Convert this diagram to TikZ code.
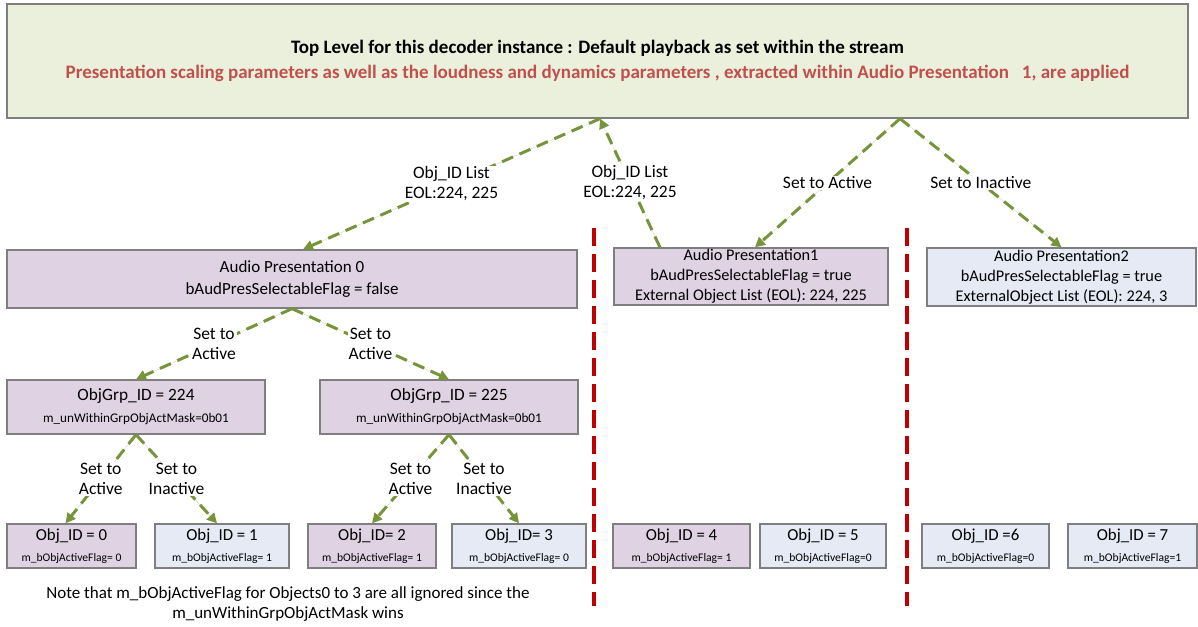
\documentclass[tikz,border=0pt]{standalone}
\usepackage{fontspec}
\setmainfont{Carlito}
\usepackage{xcolor}
\usepackage{tikz}
\usetikzlibrary{arrows.meta}
\definecolor{topfill}{HTML}{EBF0DC}
\definecolor{selfill}{HTML}{DFD3E3}
\definecolor{offfill}{HTML}{E6EAF4}
\definecolor{boxline}{HTML}{7F7F7F}
\definecolor{arrgreen}{HTML}{77933C}
\definecolor{redtxt}{HTML}{C0504D}
\definecolor{sepred}{HTML}{C00000}

\begin{document}
\begin{tikzpicture}[x=1pt,y=-1pt,>={Triangle[length=10pt,width=10pt]},
every node/.style={font=\fontsize{17}{20}\selectfont},
box/.style={draw=boxline,line width=1.3pt,inner sep=0pt,align=center},
sel/.style={box,fill=selfill},
off/.style={box,fill=offfill},
flow/.style={->,draw=arrgreen,fill=arrgreen,line width=3pt,dash pattern=on 12pt off 7pt},
lbl/.style={fill=white,inner sep=1pt,align=center,font=\fontsize{17.5}{20}\selectfont},
sep/.style={draw=sepred,line width=3.5pt,dash pattern=on 18pt off 8pt}]
\useasboundingbox (0,0) rectangle (1198,626);
\node[box,fill=topfill,minimum width=1181pt,minimum height=114pt,font=\fontsize{19}{25}\selectfont\bfseries] (top) at (597.5,61)
 {Top Level for this decoder instance : Default playback as set within the stream\\
 \textcolor{redtxt}{Presentation scaling parameters as well as the loudness and dynamics parameters , extracted within Audio Presentation\ \ \ 1, are applied}};
\node[sel,minimum width=570pt,minimum height=58pt,font=\fontsize{17}{22}\selectfont] (ap0) at (292,279)
 {Audio Presentation 0\\bAudPresSelectableFlag = false};
\node[sel,minimum width=274pt,minimum height=57pt,font=\fontsize{16.3}{20}\selectfont] (ap1) at (751,276.5)
 {Audio Presentation1\\bAudPresSelectableFlag = true\\External Object List (EOL): 224, 225};
\node[off,minimum width=269pt,minimum height=58pt,font=\fontsize{16.3}{20}\selectfont] (ap2) at (1061.5,277)
 {Audio Presentation2\\bAudPresSelectableFlag = true\\ExternalObject List (EOL): 224, 3};
\node[sel,minimum width=258pt,minimum height=54pt] (grp224) at (136,407)
 {{\fontsize{17.3}{19}\selectfont ObjGrp\_ID = 224}\\[2pt]{\fontsize{13.2}{15}\selectfont m\_unWithinGrpObjActMask=0b01}};
\node[sel,minimum width=258pt,minimum height=54pt] (grp225) at (449,407)
 {{\fontsize{17.3}{19}\selectfont ObjGrp\_ID = 225}\\[2pt]{\fontsize{13.2}{15}\selectfont m\_unWithinGrpObjActMask=0b01}};
\node[sel,minimum width=129pt,minimum height=44pt] (obj0) at (71.5,546)
 {{\fontsize{16.8}{18}\selectfont Obj\_ID = 0}\\[1pt]{\fontsize{11.6}{13}\selectfont m\_bObjActiveFlag= 0}};
\node[off,minimum width=134pt,minimum height=44pt] (obj1) at (222,546)
 {{\fontsize{16.8}{18}\selectfont Obj\_ID = 1}\\[1pt]{\fontsize{11.6}{13}\selectfont m\_bObjActiveFlag= 1}};
\node[sel,minimum width=128pt,minimum height=44pt] (obj2) at (372,546)
 {{\fontsize{16.8}{18}\selectfont Obj\_ID= 2}\\[1pt]{\fontsize{11.6}{13}\selectfont m\_bObjActiveFlag= 1}};
\node[off,minimum width=134pt,minimum height=44pt] (obj3) at (519,546)
 {{\fontsize{16.8}{18}\selectfont Obj\_ID= 3}\\[1pt]{\fontsize{11.6}{13}\selectfont m\_bObjActiveFlag= 0}};
\node[sel,minimum width=137pt,minimum height=44pt] (obj4) at (681.5,546)
 {{\fontsize{16.8}{18}\selectfont Obj\_ID = 4}\\[1pt]{\fontsize{11.6}{13}\selectfont m\_bObjActiveFlag= 1}};
\node[off,minimum width=126pt,minimum height=44pt] (obj5) at (823,546)
 {{\fontsize{16.8}{18}\selectfont Obj\_ID = 5}\\[1pt]{\fontsize{11.6}{13}\selectfont m\_bObjActiveFlag=0}};
\node[off,minimum width=127pt,minimum height=44pt] (obj6) at (985.5,546)
 {{\fontsize{16.8}{18}\selectfont Obj\_ID =6}\\[1pt]{\fontsize{11.6}{13}\selectfont m\_bObjActiveFlag=0}};
\node[off,minimum width=129pt,minimum height=44pt] (obj7) at (1132.5,546)
 {{\fontsize{16.8}{18}\selectfont Obj\_ID = 7}\\[1pt]{\fontsize{11.6}{13}\selectfont m\_bObjActiveFlag=1}};
\node[align=center,font=\fontsize{17}{20}\selectfont] (note) at (288,604)
 {Note that m\_bObjActiveFlag for Objects0 to 3 are all ignored since the\\m\_unWithinGrpObjActMask wins};
% separators between the presentations
\draw[sep] (594,228) -- (594,606);
\draw[sep] (907,228) -- (907,606);
% top level links
\draw[flow] ([xshift=2.5pt]top.south) -- node[lbl]{Obj\_ID List\\EOL:224, 225} ([xshift=11pt]ap0.north);
\draw[flow] ([xshift=-91pt]ap1.north) -- node[lbl]{Obj\_ID List\\EOL:224, 225} ([xshift=2.5pt]top.south);
\draw[flow] ([xshift=302.5pt]top.south) -- node[lbl]{Set to Active} ([xshift=4pt]ap1.north);
\draw[flow] ([xshift=302.5pt]top.south) -- node[lbl]{Set to Inactive} (ap2.north);
% groups and objects
\draw[flow] (ap0.south) -- node[lbl]{Set to\\Active} (grp224.north);
\draw[flow] (ap0.south) -- node[lbl]{Set to\\Active} (grp225.north);
\draw[flow] (grp224.south) -- node[lbl]{Set to\\Active} ([xshift=-6pt]obj0.north);
\draw[flow] (grp224.south) -- node[lbl]{Set to\\Inactive} ([xshift=-5pt]obj1.north);
\draw[flow] (grp225.south) -- node[lbl]{Set to\\Active} (obj2.north);
\draw[flow] (grp225.south) -- node[lbl]{Set to\\Inactive} (obj3.north);
\end{tikzpicture}
\end{document}
